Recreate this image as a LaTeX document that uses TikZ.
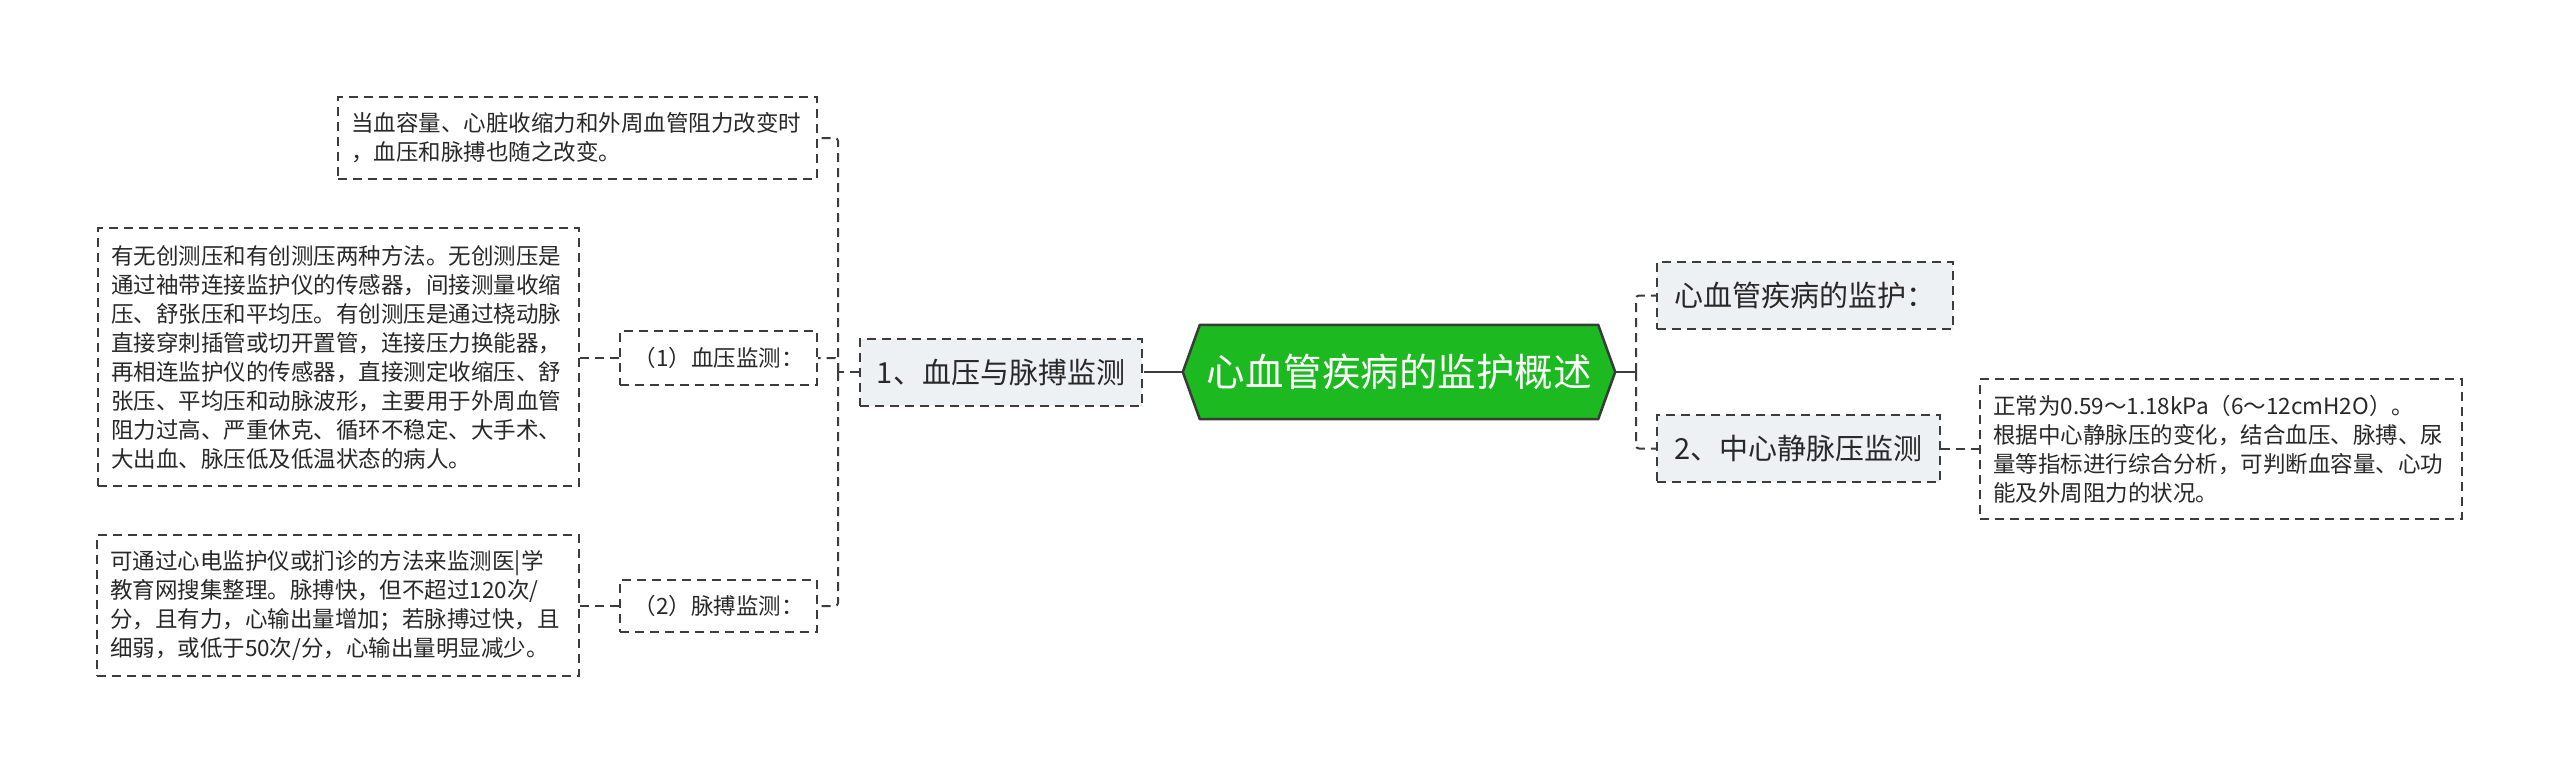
\documentclass[tikz,border=0pt]{standalone}
\usepackage{fontspec}
\setmainfont{Noto Sans CJK SC}
\usetikzlibrary{calc,backgrounds}
\definecolor{rootgreen}{RGB}{28,186,32}
\definecolor{rootborder}{RGB}{55,60,55}
\definecolor{nodegray}{RGB}{238,241,244}
\definecolor{lineC}{RGB}{60,60,60}
\definecolor{textC}{RGB}{40,40,40}
\tikzset{
  box/.style={draw=lineC, line width=2pt, dash pattern=on 9pt off 6pt, text=textC, inner sep=0pt},
  leaf/.style={box, font=\fontsize{22.5pt}{29pt}\selectfont, align=left, inner xsep=13pt},
  sub/.style={box, font=\fontsize{22.5pt}{27pt}\selectfont},
  mid/.style={box, fill=nodegray, font=\fontsize{29pt}{35pt}\selectfont},
  conn/.style={draw=lineC, line width=2pt, dash pattern=on 9pt off 6pt, rounded corners=3pt},
  solidc/.style={draw=lineC, line width=2.5pt},
  rootnode/.style={minimum width=432pt, minimum height=94pt, inner sep=0pt, text=white, font=\fontsize{38.5pt}{44pt}\selectfont}
}
\begin{document}
\begin{tikzpicture}[x=1pt,y=-1pt]
\useasboundingbox (0,0) rectangle (2560,774);
% nodes
\node[rootnode] (root) at (1399,372) {心血管疾病的监护概述};
\node[mid, minimum width=282pt, minimum height=67pt] (n1) at (1001,372) {1、血压与脉搏监测};
\node[sub, minimum width=197pt, minimum height=54pt] (bp) at (718.5,358) {（1）血压监测：};
\node[sub, minimum width=197pt, minimum height=52pt] (pp) at (718.5,606) {（2）脉搏监测：};
\node[leaf, text width=453pt, minimum height=82pt] (top) at (577.5,138) {当血容量、心脏收缩力和外周血管阻力改变时\\，血压和脉搏也随之改变。};
\node[leaf, text width=455pt, minimum height=258pt] (big) at (338.5,357) {有无创测压和有创测压两种方法。无创测压是\\通过袖带连接监护仪的传感器，间接测量收缩\\压、舒张压和平均压。有创测压是通过桡动脉\\直接穿刺插管或切开置管，连接压力换能器，\\再相连监护仪的传感器，直接测定收缩压、舒\\张压、平均压和动脉波形，主要用于外周血管\\阻力过高、严重休克、循环不稳定、大手术、\\大出血、脉压低及低温状态的病人。};
\node[leaf, text width=456pt, minimum height=141pt] (pl) at (338,605.5) {可通过心电监护仪或扪诊的方法来监测医|学\\教育网搜集整理。脉搏快，但不超过120次/\\分，且有力，心输出量增加；若脉搏过快，且\\细弱，或低于50次/分，心输出量明显减少。};
\node[mid, minimum width=296pt, minimum height=67pt] (r1) at (1805,295.5) {心血管疾病的监护：};
\node[mid, minimum width=283pt, minimum height=67pt] (r2) at (1798.5,448.5) {2、中心静脉压监测};
\node[leaf, text width=456pt, minimum height=140pt] (rb) at (2221,449) {正常为0.59～1.18kPa（6～12cmH2O）。\\根据中心静脉压的变化，结合血压、脉搏、尿\\量等指标进行综合分析，可判断血容量、心功\\能及外周阻力的状况。};
\begin{scope}[on background layer]
\fill[white] (0,0) rectangle (2560,774);
\filldraw[fill=rootgreen, draw=rootborder, line width=2.5pt, line join=round] (root.west) -- ($(root.north west)+(17,0)$) -- ($(root.north east)+(-17,0)$) -- (root.east) -- ($(root.south east)+(-17,0)$) -- ($(root.south west)+(17,0)$) -- cycle;
\end{scope}
% connectors
\coordinate (ls) at (1153,372);
\coordinate (sp) at (838,372);
\coordinate (rs) at (1636,372);
\draw[solidc] (root.west) -- (ls);
\draw[conn] (ls) -- (n1.east);
\draw[conn] (n1.west) -- (sp);
\draw[conn] (sp) |- (top.east);
\draw[conn] (sp) |- (bp.east);
\draw[conn] (sp) |- (pp.east);
\draw[conn] (bp.west) -- (big.east |- bp.west);
\draw[conn] (pp.west) -- (pl.east |- pp.west);
\draw[solidc] (root.east) -- (rs);
\draw[conn] (rs) |- (r1.west);
\draw[conn] (rs) |- (r2.west);
\draw[conn] (r2.east) -- (rb.west |- r2.east);
\end{tikzpicture}
\end{document}
